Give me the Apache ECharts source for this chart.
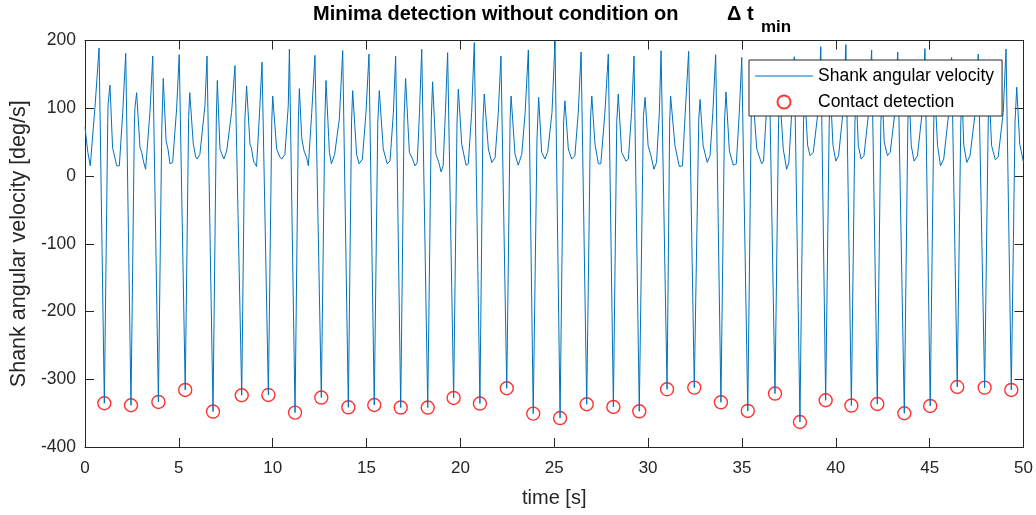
<!DOCTYPE html>
<html>
<head>
<meta charset="utf-8">
<script src="https://cdn.jsdelivr.net/npm/echarts@6/dist/echarts.min.js"></script>
<style>
html,body{margin:0;padding:0;background:#fff;}
#chart{width:1036px;height:515px;}
</style>
</head>
<body>
<div id="chart"></div>
<script>
// Shank angular velocity: time [s] and value [deg/s], one gait cycle per line
const velTime = [
  0,0.15,0.28,0.37,0.53,0.75,1.03,
  1.21,1.23,1.33,1.47,1.55,1.69,1.83,2.01,2.17,2.45,
  2.63,2.66,2.75,2.93,3.02,3.11,3.23,3.46,3.61,3.91,
  4.09,4.17,4.32,4.42,4.53,4.67,4.88,5.02,5.34,
  5.52,5.58,5.77,5.90,5.98,6.12,6.39,6.50,6.82,
  7.00,7.05,7.19,7.30,7.40,7.55,7.81,7.99,8.35,
  8.52,8.61,8.79,8.86,8.98,9.14,9.30,9.43,9.77,
  9.95,10.00,10.21,10.38,10.48,10.65,10.83,10.89,11.19,
  11.37,11.42,11.55,11.67,11.81,11.90,12.08,12.25,12.59,
  12.78,12.84,13.02,13.13,13.30,13.55,13.73,14.03,
  14.20,14.26,14.47,14.60,14.78,14.97,15.13,15.41,
  15.60,15.68,15.89,16.10,16.25,16.43,16.55,16.82,
  17.00,17.08,17.28,17.45,17.58,17.70,17.82,17.94,18.26,
  18.45,18.52,18.70,18.85,18.97,19.08,19.20,19.32,19.64,
  19.82,19.89,20.07,20.30,20.42,20.60,20.74,21.04,
  21.20,21.27,21.49,21.67,21.85,22.02,22.16,22.47,
  22.65,22.70,22.91,23.08,23.27,23.45,23.62,23.88,
  24.08,24.17,24.33,24.50,24.65,24.88,25.04,25.31,
  25.50,25.57,25.75,25.93,26.10,26.28,26.43,26.73,
  26.93,27.00,27.17,27.35,27.48,27.70,27.88,28.15,
  28.33,28.41,28.59,28.82,28.95,29.12,29.25,29.53,
  29.75,29.84,30.00,30.15,30.31,30.45,30.60,30.69,31.01,
  31.15,31.20,31.43,31.66,31.83,31.98,32.16,32.46,
  32.70,32.77,32.93,33.15,33.30,33.45,33.60,33.88,
  34.07,34.15,34.33,34.54,34.70,34.86,34.99,35.31,
  35.50,35.58,35.79,36.05,36.15,36.30,36.45,36.76,
  36.95,37.02,37.20,37.38,37.50,37.65,37.79,38.09,
  38.28,38.35,38.50,38.63,38.80,39.05,39.20,39.46,
  39.65,39.72,39.85,40.00,40.15,40.38,40.54,40.83,
  41.02,41.09,41.20,41.35,41.50,41.75,41.91,42.21,
  42.40,42.47,42.58,42.75,42.90,43.15,43.30,43.65,
  43.84,43.91,44.02,44.17,44.35,44.60,44.75,45.03,
  45.22,45.29,45.42,45.58,45.75,46.02,46.17,46.47,
  46.66,46.72,46.82,46.98,47.15,47.43,47.59,47.93,
  48.12,48.18,48.30,48.50,48.65,48.92,49.07,49.35,
  49.55,49.64,49.80,50.00
];
const velValue = [
  72,35,15,16,101,189,-335.4,
  79,106,134,42,40,15,15,94,181,-338.4,
  74,100,123,42,35,22,10,94,177,-333.5,
  69,144,52,40,18,20,99,179,-315.8,
  86,123,47,28,25,32,104,177,-347.7,
  90,141,40,32,25,37,94,163,-323.6,
  84,133,47,42,22,14,94,168,-323.2,
  80,118,40,28,25,32,104,187,-349.2,
  85,129,55,37,27,15,94,178,-327,
  85,141,35,18,32,84,185,-341.4,
  80,126,32,18,25,94,180,-338,
  80,126,40,18,22,94,177,-341.8,
  85,144,35,25,15,20,94,187,-341.8,
  85,139,32,20,6,15,94,182,-327.6,
  80,128,47,16,18,94,197,-335.9,
  80,121,40,20,27,94,177,-313.3,
  85,118,32,16,32,94,186,-350.7,
  54,116,35,25,35,94,199,-357.3,
  80,111,40,25,30,94,183,-336.9,
  84,118,47,18,18,94,180,-340.9,
  80,121,35,22,25,94,177,-347.3,
  89,116,45,30,10,20,94,185,-314.8,
  80,118,45,14,15,94,184,-312.3,
  84,113,45,20,30,94,179,-334,
  80,124,37,16,18,94,175,-346.8,
  99,120,40,18,22,94,165,-321.1,
  80,120,40,10,20,94,176,-363.1,
  80,120,45,30,35,94,191,-331,
  80,120,45,22,30,94,194,-338.8,
  80,120,45,25,30,94,186,-336.5,
  80,120,50,30,35,94,183,-350.2,
  80,120,45,22,30,94,188,-339.4,
  80,120,45,15,25,94,175,-311.4,
  80,120,45,20,30,94,180,-312.3,
  80,120,45,24,28,94,187.5,-315.8,
  80,131,47,20
];
// Contact detection (detected minima)
const contactTime = [1.03,2.45,3.91,5.34,6.82,8.35,9.77,11.19,12.59,14.03,15.41,16.82,18.26,19.64,21.04,22.47,23.88,25.31,
  26.73,28.15,29.53,31.01,32.46,33.88,35.31,36.76,38.09,39.46,40.83,42.21,43.65,45.03,46.47,47.93,49.35];
const contactValue = [-335.4,-338.4,-333.5,-315.8,-347.7,-323.6,-323.2,-349.2,-327,-341.4,-338,-341.8,-341.8,-327.6,-335.9,-313.3,-350.7,-357.3,
  -336.9,-340.9,-347.3,-314.8,-312.3,-334,-346.8,-321.1,-363.1,-331,-338.8,-336.5,-350.2,-339.4,-311.4,-312.3,-315.8];
const xTicks = {min: 0, max: 50, interval: 5};
const yTicks = {min: -400, max: 200, interval: 100};
const seriesNames = ['Shank angular velocity', 'Contact detection'];
const titleMain = 'Minima detection without condition on';
const titleDelta = '\u0394 t';
const titleSub = 'min';

const FONT = 'Liberation Sans, Arial, Helvetica, sans-serif';
const AX = '#262626';
const lineData = velTime.map((t, i) => [t, velValue[i]]);
const contactData = contactTime.map((t, i) => [t, contactValue[i]]);

function xAxisCfg(pos, labels) {
  return {
    type: 'value', position: pos, min: xTicks.min, max: xTicks.max, interval: xTicks.interval,
    axisLine: {show: true, onZero: false, lineStyle: {color: AX, width: 1}},
    axisTick: {show: true, inside: true, length: 9, lineStyle: {color: AX, width: 1}},
    axisLabel: {show: labels, color: AX, fontSize: 17, fontFamily: FONT, margin: 13},
    splitLine: {show: false},
    name: labels ? 'time [s]' : '', nameLocation: 'middle', nameGap: 41,
    nameTextStyle: {color: AX, fontSize: 20, fontFamily: FONT}
  };
}
function yAxisCfg(pos, labels) {
  return {
    type: 'value', position: pos, min: yTicks.min, max: yTicks.max, interval: yTicks.interval,
    axisLine: {show: true, onZero: false, lineStyle: {color: AX, width: 1}},
    axisTick: {show: true, inside: true, length: 9, lineStyle: {color: AX, width: 1}},
    axisLabel: {show: labels, color: AX, fontSize: 17.5, fontFamily: FONT, margin: 9},
    splitLine: {show: false},
    name: labels ? 'Shank angular velocity [deg/s]' : '', nameLocation: 'middle', nameGap: 55,
    nameTextStyle: {color: AX, fontSize: 21.5, fontFamily: FONT}
  };
}

const titleFont = 'bold 20px ' + FONT;
const chart = echarts.init(document.getElementById('chart'), null, {renderer: 'canvas'});
chart.setOption({
  animation: false,
  backgroundColor: '#fff',
  graphic: [
    {type: 'text', left: 313, top: 4, style: {text: titleMain, font: titleFont, fill: '#000'}},
    {type: 'text', left: 727, top: 4, style: {text: titleDelta, font: titleFont, fill: '#000'}},
    {type: 'text', left: 761, top: 19, style: {text: titleSub, font: 'bold 17px ' + FONT, fill: '#000'}}
  ],
  grid: {left: 85, right: 12.5, top: 40.5, bottom: 68, containLabel: false},
  legend: {
    orient: 'vertical', left: 749, top: 60,
    padding: [7, 8, 5, 6], itemGap: 8, itemWidth: 58, itemHeight: 13,
    backgroundColor: '#fff', borderColor: AX, borderWidth: 1,
    textStyle: {color: '#000', fontSize: 17.5, fontFamily: FONT},
    data: [
      {name: seriesNames[0], icon: 'path://M0,0 L58,0 L58,1 L0,1 Z'},
      {name: seriesNames[1]}
    ]
  },
  xAxis: [xAxisCfg('bottom', true), xAxisCfg('top', false)],
  yAxis: [yAxisCfg('left', true), yAxisCfg('right', false)],
  series: [
    {
      name: seriesNames[0], type: 'line', xAxisIndex: 0, yAxisIndex: 0,
      data: lineData, symbol: 'none', showSymbol: false,
      lineStyle: {color: '#0072BD', width: 1}, itemStyle: {color: '#0072BD'}
    },
    {
      name: seriesNames[1], type: 'scatter', xAxisIndex: 0, yAxisIndex: 0,
      data: contactData, symbol: 'circle', symbolSize: 13,
      itemStyle: {color: 'rgba(255,255,255,0)', borderColor: '#ff0000', borderWidth: 1.4}
    }
  ]
});
</script>
</body>
</html>
